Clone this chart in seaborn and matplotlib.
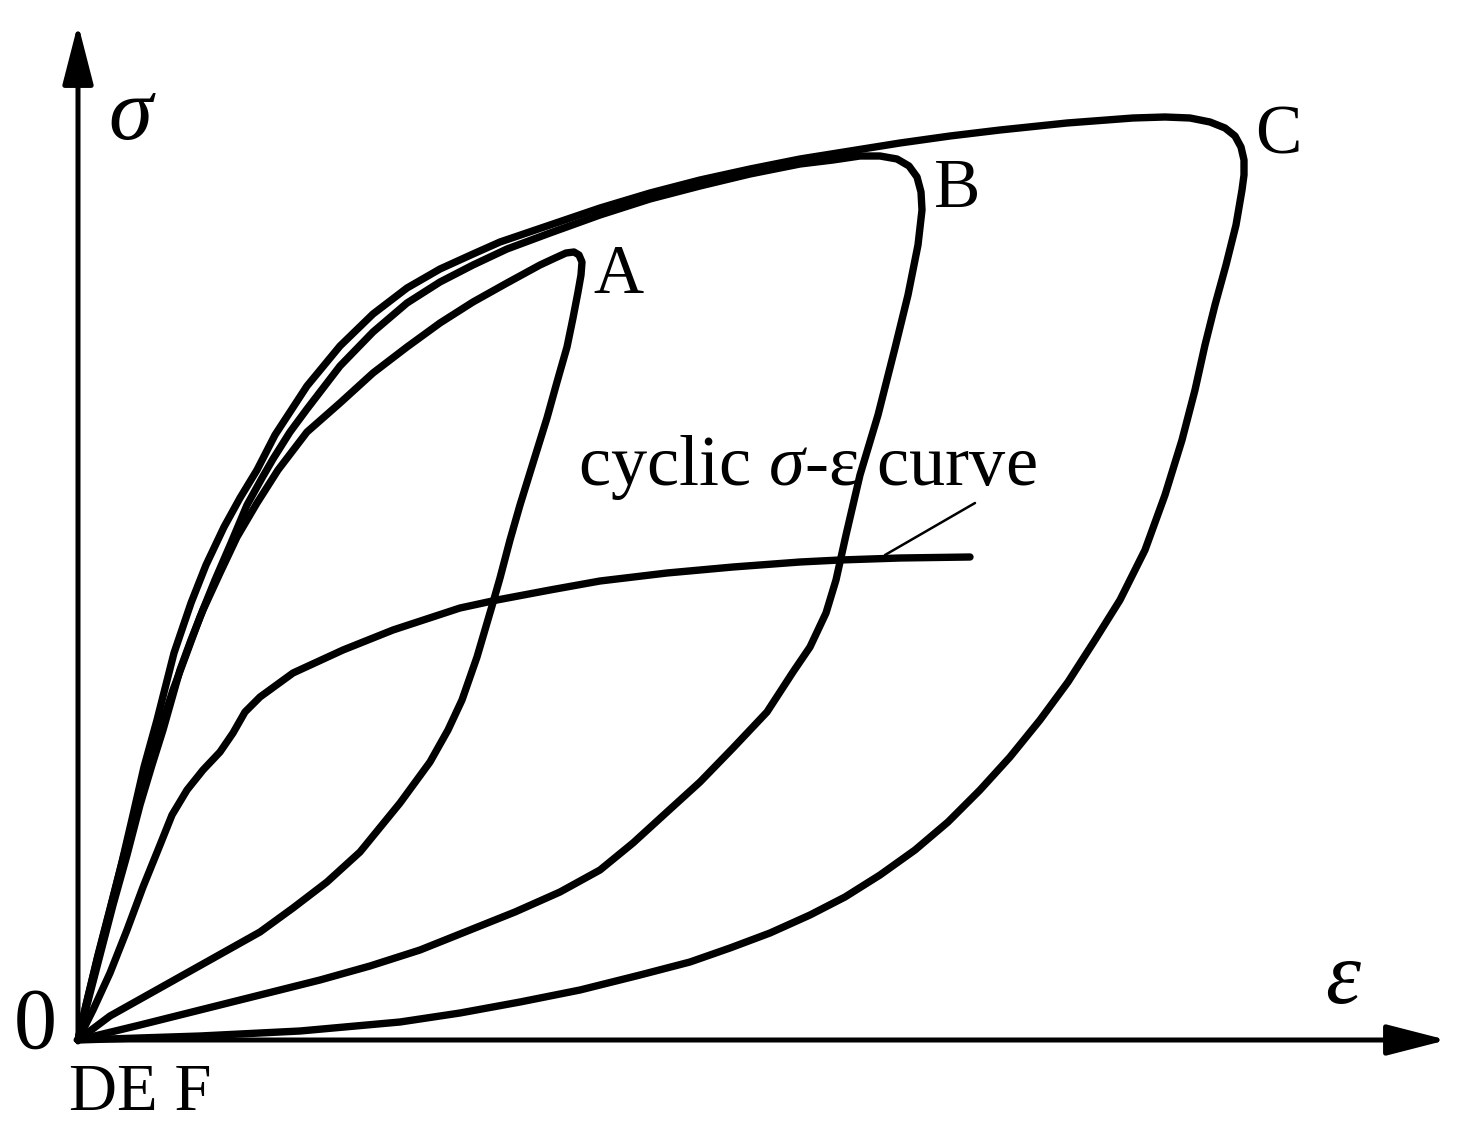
import matplotlib
matplotlib.use("Agg")
import matplotlib.pyplot as plt
import seaborn as sns
import pandas as pd

# ---- data (strain ε, stress σ in arbitrary units) ----
loopA_eps = [0, 9, 22, 35, 49, 62, 74, 85, 102, 113, 125, 142, 159, 179, 200, 229, 262, 295, 329, 362,
             395, 429, 462, 477, 488, 496, 501, 504, 503, 500, 495, 489, 479, 469, 455, 442, 432, 422, 414,
             399, 384, 370, 352, 322, 282, 249, 215, 182, 132, 82, 32, 0]
loopA_sig = [0, 35, 85, 135, 185, 235, 275, 310, 370, 400, 430, 467, 503, 537, 570, 608, 637, 667, 693, 717,
             738, 757, 775, 782, 787, 788, 785, 778, 765, 748, 722, 693, 658, 622, 577, 535, 500, 462, 434,
             383, 340, 310, 278, 237, 188, 158, 132, 108, 80, 52, 24, 0]

loopB_eps = [0, 8, 20, 33, 46, 59, 71, 82, 95, 108, 122, 137, 153, 169, 184, 195, 212, 229, 262, 295, 329,
             362, 395, 429, 472, 522, 572, 622, 672, 722, 755, 782, 802, 819, 831, 839, 843, 844, 840, 830,
             817, 800, 782, 768, 758, 748, 732, 715, 689, 655, 622, 589, 555, 522, 482, 437, 392,
             342, 292, 242, 182, 122, 62, 0]
loopB_sig = [0, 35, 85, 135, 185, 235, 275, 310, 350, 385, 423, 460, 497, 535, 562, 581, 608, 631, 674, 708, 737,
             758, 775, 791, 807, 825, 841, 854, 866, 876, 880, 884, 884, 881, 874, 863, 848, 830, 795, 745,
             692, 625, 565, 505, 460, 427, 393, 368, 328, 292, 258, 228, 197, 170, 148, 128, 110,
             90, 74, 60, 45, 30, 15, 0]

loopC_eps = [0, 8, 19, 32, 44, 55, 66, 79, 96, 113, 128, 146, 162, 179, 197, 229, 262, 295, 329,
             362, 395, 422, 472, 522, 572, 622, 672, 722, 772, 822, 872, 922, 989, 1055, 1087, 1112, 1132,
             1147, 1157, 1163, 1166, 1166, 1164, 1158, 1148, 1137, 1127, 1117, 1104, 1087, 1067, 1042, 1017,
             990, 962, 932, 902, 870, 837, 802, 767, 732, 692, 652, 612, 562, 502, 442, 382, 322, 222, 122, 0]
loopC_sig = [0, 35, 80, 130, 178, 225, 273, 320, 387, 437, 475, 513, 542, 570, 605, 654, 694, 726, 752,
             771, 786, 798, 815, 832, 847, 860, 871, 881, 889, 897, 904, 910, 917, 922, 923, 922, 918,
             912, 904, 893, 880, 865, 850, 815, 775, 735, 695, 650, 600, 545, 490, 440, 400,
             358, 320, 283, 250, 218, 190, 165, 143, 125, 107, 92, 78, 65, 50, 38, 27, 18, 9, 4, 0]

cyclic_eps = [0, 15, 32, 49, 65, 82, 94, 109, 125, 142, 155, 167, 182, 215, 265, 315, 382, 419, 472,
              522, 589, 655, 722, 762, 822, 892]
cyclic_sig = [0, 30, 67, 110, 153, 195, 225, 250, 270, 288, 307, 328, 343, 367, 390, 410, 432, 440, 450,
              459, 467, 473, 478, 480, 482, 483]

loop_labels = ["A", "B", "C"]
axis_labels = ["σ", "ε"]
origin_label = "0"
unload_labels = "DE F"
cyclic_label = "cyclic $\\mathit{σ}$-ε curve"

# ---- figure ----
sns.set_theme(style="white")
plt.rcParams["font.family"] = ["Liberation Serif", "DejaVu Serif"]
plt.rcParams["text.color"] = "black"
plt.rcParams["mathtext.fontset"] = "custom"
plt.rcParams["mathtext.it"] = "Liberation Serif:italic"
plt.rcParams["mathtext.rm"] = "Liberation Serif"

fig = plt.figure(figsize=(14.66, 11.42), dpi=100)
ax = fig.add_axes([0, 0, 1, 1])
ax.set_xlim(-78, 1388)
ax.set_ylim(-102, 1040)
ax.axis("off")

lw = 5.3
line_kw = dict(color="black", linewidth=lw, sort=False, estimator=None, legend=False,
               solid_joinstyle="round", solid_capstyle="round")
for e, s in [(loopC_eps, loopC_sig), (loopB_eps, loopB_sig), (loopA_eps, loopA_sig),
             (cyclic_eps, cyclic_sig)]:
    df = pd.DataFrame({"eps": e, "sig": s})
    sns.lineplot(data=df, x="eps", y="sig", ax=ax, **line_kw)

# axes with arrows
arrow_style = "-|>,head_length=3.7,head_width=0.95"
ax.annotate("", xy=(0, 1016), xytext=(0, -2),
            arrowprops=dict(arrowstyle=arrow_style, color="black", lw=3.6,
                            mutation_scale=10, shrinkA=0, shrinkB=0))
ax.annotate("", xy=(1369, 0), xytext=(-2, 0),
            arrowprops=dict(arrowstyle=arrow_style, color="black", lw=3.6,
                            mutation_scale=10, shrinkA=0, shrinkB=0))

# labels
ax.text(52, 922, axis_labels[0], fontsize=64, style="italic", ha="center", va="center")
ax.text(1265, 59, axis_labels[1], fontsize=64, style="italic", ha="center", va="center")
ax.text(-43, 13, origin_label, fontsize=62, ha="center", va="center")
ax.text(62, -54, unload_labels, fontsize=48, ha="center", va="center")
for lab, (x, y) in zip(loop_labels, [(540, 764), (879, 850), (1200, 903)]):
    ax.text(x, y, lab, fontsize=50, ha="center", va="center")
ax.text(500, 555, cyclic_label, fontsize=52, ha="left", va="baseline")
ax.plot([897, 807], [537, 485], color="black", lw=1.8)

fig.savefig("out.png", dpi=100, facecolor="white")
